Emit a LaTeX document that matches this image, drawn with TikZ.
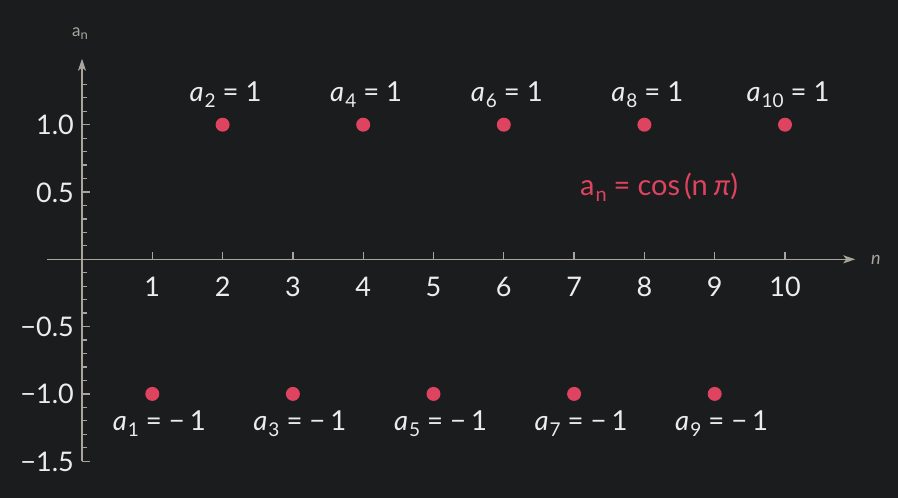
\documentclass[tikz,border=0pt]{standalone}
\usepackage{fontspec}
\setmainfont{Lato}
\usetikzlibrary{arrows.meta}
\definecolor{bg}{HTML}{1B1C1E}
\definecolor{axiscol}{HTML}{A9A59D}
\definecolor{dotcol}{HTML}{DE4360}
\definecolor{txt}{HTML}{ECECEC}
\newcommand\labfont{\fontsize{27.5}{27.5}\selectfont}
\newcommand\tickfont{\fontsize{27}{27}\selectfont}
\newcommand\subfont{\fontsize{19}{19}\selectfont}
\newcommand\alab[2]{\textit{a}\hspace{1pt}\raisebox{-5.5pt}{\subfont #1}\hspace{7pt}=\hspace{7pt}#2}
\begin{document}
\begin{tikzpicture}[x=1pt,y=-1pt,
  axisline/.style={draw=axiscol,line width=1.3pt},
  ticklab/.style={text=txt,font=\tickfont,inner sep=0pt},
  ptlab/.style={text=txt,font=\labfont,inner sep=0pt,anchor=base},
  datadot/.style={fill=dotcol,draw=none}]
\fill[bg] (0,0) rectangle (898,498);
\useasboundingbox (0,0) rectangle (898,498);
\begin{scope}[shift={(82,259.3)},x=70.3pt,y=134.6pt]
  % axes
  \coordinate (xs) at (-0.5,0);
  \coordinate (xe) at (11.0,0);
  \coordinate (ys) at (0,-1.5);
  \coordinate (ye) at (0,1.49);
  \draw[axisline,-{Stealth[length=12pt,width=8pt,inset=3pt]}] (xs) -- (xe);
  \draw[axisline,-{Stealth[length=12pt,width=8pt,inset=3pt]}] (ys) -- (ye);
  % x ticks
  \foreach \n in {1,...,10}{
    \draw[axisline] (\n,0) -- ++(0,7.5pt);
    \node[ticklab,anchor=base] (xl\n) at ([yshift=-37.5pt]\n,0) {\n};
  }
  % y ticks
  \foreach \v in {-1.5,-1.0,-0.5,0.5,1.0}{
    \draw[axisline] (0,\v) -- ++(8pt,0);
  }
  \foreach \v in {-1.4,-1.3,-1.2,-1.1,-0.9,-0.8,-0.7,-0.6,-0.4,-0.3,-0.2,-0.1,0.1,0.2,0.3,0.4,0.6,0.7,0.8,0.9,1.1,1.2,1.3}{
    \draw[axisline] (0,\v) -- ++(5pt,0);
  }
  \node[ticklab,anchor=base east] (yl1) at ([xshift=-8pt,yshift=-10pt]0,1.0) {1.0};
  \node[ticklab,anchor=base east] (yl2) at ([xshift=-8pt,yshift=-10pt]0,0.5) {0.5};
  \node[ticklab,anchor=base east] (yl3) at ([xshift=-8pt,yshift=-10pt]0,-0.5) {−0.5};
  \node[ticklab,anchor=base east] (yl4) at ([xshift=-8pt,yshift=-10pt]0,-1.0) {−1.0};
  \node[ticklab,anchor=base east] (yl5) at ([xshift=-8pt,yshift=-10pt]0,-1.5) {−1.5};
  % axis labels
  \node[text=axiscol,font=\fontsize{17}{17}\selectfont,anchor=base west,inner sep=0pt] (ylab) at ([xshift=-10pt,yshift=223pt]0,0) {a\raisebox{-3pt}{\fontsize{13}{13}\selectfont n}};
  \node[text=axiscol,font=\fontsize{18}{18}\selectfont\itshape,anchor=base west,inner sep=0pt] (xlab) at ([xshift=789pt,yshift=-5pt]0,0) {n};
  % points
  \foreach \n in {2,4,6,8,10}{
    \fill[datadot] (\n,1) circle[radius=7pt];
    \node[ptlab] (p\n) at ([xshift=3pt,yshift=23pt]\n,1) {\alab{\n}{1}};
  }
  \foreach \n in {1,3,5,7,9}{
    \fill[datadot] (\n,-1) circle[radius=7pt];
    \node[ptlab] (p\n) at ([xshift=7pt,yshift=-37pt]\n,-1) {\alab{\n}{−\hspace{5pt}1}};
  }
  % formula
  \node[text=dotcol,font=\fontsize{29}{29}\selectfont,anchor=base,inner sep=0pt] (formula) at ([yshift=-3pt]8.21,0.5) {a\hspace{1pt}\raisebox{-6pt}{\fontsize{20}{20}\selectfont n}\hspace{7pt}=\hspace{7pt}cos\hspace{4pt}(n\hspace{6pt}\textit{π})};
\end{scope}
\end{tikzpicture}
\end{document}
